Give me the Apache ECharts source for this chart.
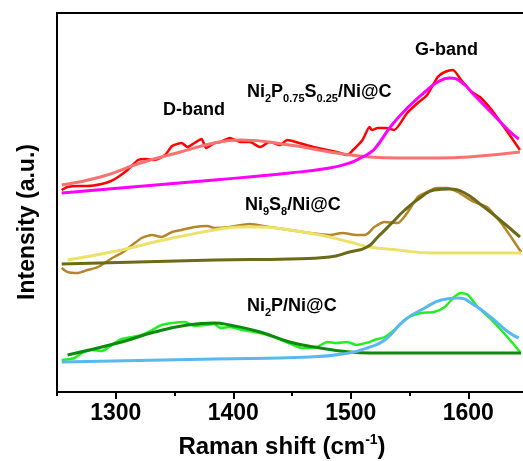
<!DOCTYPE html>
<html>
<head>
<meta charset="utf-8">
<script src="https://cdn.jsdelivr.net/npm/echarts@6/dist/echarts.min.js"></script>
<style>html,body{margin:0;padding:0;background:#fff}#c{width:523px;height:461px}</style>
</head>
<body>
<div id="c"></div>
<script>
// x axis ticks (Raman shift, cm-1)
var xTicks = [1300, 1400, 1500, 1600];

// Ni2P0.75S0.25/Ni@C : experimental
var topExpX = [1254,1259,1268,1276,1288,1296,1302,1310,1319,1326,1333,1342,1348,1356,1361,1367,1373,1377,1384,1389,1397,1406,1414,1423,1431,1440,1446,1456,1468,1480,1488,1497,1502,1510,1516,1518,1523,1530,1537,1548,1557,1565,1574,1580,1587,1594,1603,1610,1620,1628,1637,1644];
var topExpY = [202,205,206,206,208,211,215,222,232,233,232,237,246,249,245,249,253,244,249,250,254,250,250,245,250,247,252,249,245,242,240,237,242,252,265,262,264,264,262,279,289,297,315,320,322,312,300,295,282,269,254,242];
// Ni2P0.75S0.25/Ni@C : D-band fit
var topDX = [1254,1287,1321,1355,1384,1406,1448,1482,1516,1540,1575,1600,1644];
var topDY = [207,215,229,240,249,252,247,240,235,234,234,235,240];
// Ni2P0.75S0.25/Ni@C : G-band fit
var topGX = [1254,1384,1448,1482,1499,1510,1516,1521,1535,1549,1563,1574,1584,1594,1605,1620,1634,1643];
var topGY = [199,212,219,224,229,235,239,244,267,285,300,310,314,310,297,279,262,253];

// Ni9S8/Ni@C : experimental
var midExpX = [1254,1259,1268,1276,1285,1297,1305,1314,1322,1331,1339,1348,1356,1367,1378,1384,1397,1414,1431,1448,1465,1482,1493,1505,1512,1516,1520,1529,1540,1548,1557,1565,1573,1582,1591,1605,1616,1628,1637,1645];
var midExpY = [124,120,119,122,125,134,139,147,154,157,155,160,162,165,166,164,165,168,165,162,159,157,159,157,157,160,165,170,169,179,195,200,204,204,200,190,185,169,154,140];
// Ni9S8/Ni@C : D-band fit
var midDX = [1259,1305,1333,1361,1384,1406,1423,1448,1474,1499,1516,1540,1569,1597,1645];
var midDY = [132,142,150,157,162,165,165,162,157,150,145,142,139,139,139];
// Ni9S8/Ni@C : G-band fit
var midGX = [1254,1384,1448,1482,1499,1514,1523,1535,1546,1560,1571,1584,1597,1611,1625,1644];
var midGY = [128,132,133,135,140,145,155,169,182,195,202,203,199,187,174,155];

// Ni2P/Ni@C : experimental
var botExpX = [1254,1265,1271,1280,1288,1299,1305,1314,1322,1331,1339,1348,1359,1367,1376,1384,1389,1397,1408,1423,1437,1451,1459,1471,1480,1488,1497,1505,1516,1520,1529,1537,1548,1560,1571,1580,1588,1594,1600,1608,1620,1628,1637,1644];
var botExpY = [32,34,39,42,41,49,53,55,57,62,67,69,70,66,67,68,64,65,62,59,54,47,44,45,50,49,50,47,50,52,55,62,74,79,80,85,95,99,97,85,72,62,50,40];
// Ni2P/Ni@C : D-band fit
var botDX = [1259,1305,1333,1361,1384,1397,1423,1448,1474,1499,1516,1569,1645];
var botDY = [37,50,60,67,69,67,60,50,44,40,39,39,39];
// Ni2P/Ni@C : G-band fit
var botGX = [1254,1384,1465,1493,1514,1529,1546,1563,1577,1591,1605,1620,1634,1643];
var botGY = [30,33,35,38,44,52,72,84,92,94,87,74,60,54];

function zip(xs, ys) { return xs.map(function (x, i) { return [x, ys[i]]; }); }

var FONT = 'Arial, "Liberation Sans", sans-serif';

function line(name, xs, ys, color, width, smooth) {
  return {
    name: name, type: 'line', data: zip(xs, ys), showSymbol: false, smooth: smooth,
    lineStyle: { color: color, width: width }, itemStyle: { color: color }, silent: true, animation: false
  };
}

var subRich = {
  m: { fontSize: 18, fontWeight: 'bold', fontFamily: FONT, lineHeight: 24, verticalAlign: 'middle', fill: '#000' },
  s: { fontSize: 11, fontWeight: 'bold', fontFamily: FONT, lineHeight: 11, verticalAlign: 'bottom', fill: '#000' }
};

function label(x, y, text) {
  return {
    type: 'text', x: x, y: y, silent: true,
    style: { text: text, rich: subRich, fill: '#000', font: 'bold 18px ' + FONT, verticalAlign: 'top', align: 'left' }
  };
}

var chart = echarts.init(document.getElementById('c'), null, { renderer: 'canvas' });
chart.setOption({
  animation: false,
  backgroundColor: '#fff',
  grid: { left: 57, top: 13, width: 470, bottom: 69, outerBoundsMode: 'none', containLabel: false,
          show: true, borderColor: '#000', borderWidth: 2, backgroundColor: 'transparent' },
  xAxis: [{
    type: 'value', min: 1250, max: 1650,
    axisLine: { show: true, lineStyle: { color: '#000', width: 2 } },
    axisTick: { show: true, customValues: xTicks, length: 7, lineStyle: { color: '#000', width: 2 } },
    axisLabel: { show: true, customValues: xTicks, margin: 10, color: '#000', fontSize: 23, fontWeight: 'bold', fontFamily: FONT,
                 formatter: function (v) { return String(v); } },
    splitLine: { show: false }
  }, {
    type: 'value', min: 1250, max: 1650, interval: 50, gridIndex: 0, position: 'bottom',
    axisLine: { show: false },
    axisTick: { show: true, length: 4, lineStyle: { color: '#000', width: 2 } },
    axisLabel: { show: false }, splitLine: { show: false }
  }],
  yAxis: {
    type: 'value', min: 0, max: 379,
    axisLine: { show: true, lineStyle: { color: '#000', width: 2 } },
    axisTick: { show: false }, axisLabel: { show: false }, splitLine: { show: false }
  },
  series: [
    line('top exp', topExpX, topExpY, '#ff0000', 2.5, 0.2),
    line('top D', topDX, topDY, '#f87272', 3, 0.5),
    line('top G', topGX, topGY, '#ff00ff', 3, 0.5),
    line('mid exp', midExpX, midExpY, '#b5852a', 2.5, 0.2),
    line('mid D', midDX, midDY, '#ebe26a', 3, 0.5),
    line('mid G', midGX, midGY, '#6b6a18', 3, 0.5),
    line('bot exp', botExpX, botExpY, '#22ee22', 2.5, 0.2),
    line('bot D', botDX, botDY, '#0b8a0b', 3, 0.5),
    line('bot G', botGX, botGY, '#58b8f0', 3, 0.5)
  ],
  graphic: [
    { type: 'text', x: 415, y: 50, silent: true, style: { text: 'G-band', font: 'bold 18px ' + FONT, fill: '#000', verticalAlign: 'middle', align: 'left' } },
    { type: 'text', x: 163, y: 110, silent: true, style: { text: 'D-band', font: 'bold 18px ' + FONT, fill: '#000', verticalAlign: 'middle', align: 'left' } },
    label(247, 80, '{m|Ni}{s|2}{m|P}{s|0.75}{m|S}{s|0.25}{m|/Ni@C}'),
    label(245, 193, '{m|Ni}{s|9}{m|S}{s|8}{m|/Ni@C}'),
    label(247, 294, '{m|Ni}{s|2}{m|P/Ni@C}'),
    { type: 'text', x: 28, y: 222, rotation: Math.PI / 2, silent: true,
      style: { text: 'Intensity (a.u.)', font: 'bold 23px ' + FONT, fill: '#000', align: 'center', verticalAlign: 'middle' } },
    { type: 'text', x: 282, y: 433, silent: true,
      style: { text: '{m|Raman shift (cm}{p|-1}{m|)}', align: 'center', verticalAlign: 'top', fill: '#000',
        rich: {
          m: { fontSize: 24, fontWeight: 'bold', fontFamily: FONT, lineHeight: 28, verticalAlign: 'middle', fill: '#000' },
          p: { fontSize: 14, fontWeight: 'bold', fontFamily: FONT, lineHeight: 14, verticalAlign: 'top', fill: '#000' }
        } } }
  ]
});
</script>
</body>
</html>
